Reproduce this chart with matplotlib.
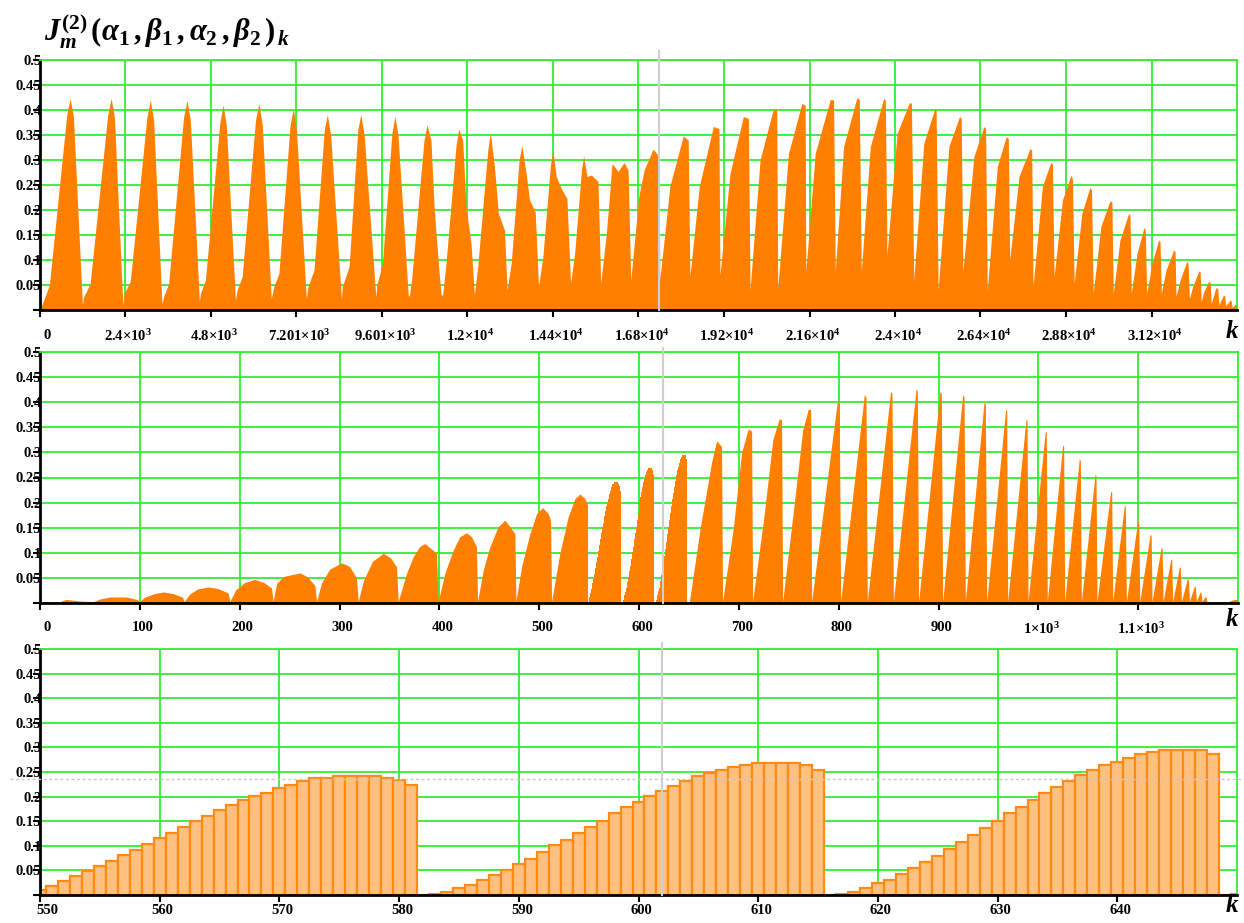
import matplotlib
matplotlib.use("Agg")
import matplotlib.pyplot as plt
import matplotlib.transforms as mtransforms
import numpy as np

plt.rcParams.update({
    "font.family": ["Liberation Serif", "DejaVu Serif"],
    "font.weight": "bold",
    "mathtext.fontset": "custom",
    "mathtext.rm": "Liberation Serif:bold",
    "mathtext.it": "Liberation Serif:italic:bold",
    "mathtext.bf": "Liberation Serif:bold",
})

ORANGE = "#ff8000"
BAR_FACE = "#ffc080"
BAR_EDGE = "#ff8a14"
GRID = "#33ee33"
CURSOR = "#cfcfcf"

# ---------------------------------------------------------------------------
# Panel 1: k = 0 ... 33603, outline of each lobe
# start point, points on the rising side, peak, points on the falling side, end
# ---------------------------------------------------------------------------
top_start_k = [0, 1219, 2364, 3471, 4502, 5534, 6566, 7523, 8489, 9455,
               10365, 11303, 12194, 13113, 13995, 14895, 15740, 16584, 17400, 18244,
               19088, 19933, 20711, 21499, 22325, 23056, 23778, 24529, 25213, 25908,
               26592, 27221, 27877, 28468, 29031, 29566, 30129, 30635, 31067, 31479,
               31892, 32267, 32596, 32877, 33092, 33280, 33467]
top_start_v = [0.0, 0.025, 0.033, 0.027, 0.033, 0.04, 0.047, 0.047, 0.047, 0.05,
               0.027, 0.03, 0.03, 0.04, 0.047, 0.053, 0.053, 0.06, 0.06, 0.067,
               0.07, 0.04, 0.043, 0.077, 0.077, 0.077, 0.11, 0.06, 0.04, 0.077,
               0.04, 0.1, 0.047, 0.067, 0.053, 0.033, 0.033, 0.033, 0.033, 0.033,
               0.027, 0.023, 0.017, 0.013, 0.01, 0.008, 0.005]
top_rise = [
    [(263, 0.05), (750, 0.39)], [(1407, 0.053), (1900, 0.39)],
    [(2533, 0.057), (3000, 0.385)], [(3611, 0.053), (4030, 0.385)],
    [(4643, 0.06), (5050, 0.375)], [(5675, 0.067), (6050, 0.38)],
    [(6707, 0.073), (7020, 0.37)], [(7692, 0.08), (7980, 0.36)],
    [(8677, 0.087), (8920, 0.36)], [(9614, 0.093), (9880, 0.355)],
    [(10431, 0.06), (10780, 0.34)], [(11397, 0.093), (11680, 0.33)],
    [(12288, 0.087), (12570, 0.32)], [(13226, 0.093), (13450, 0.3)],
    [(14117, 0.107), (14330, 0.29)], [(15008, 0.113), (15200, 0.28)],
    [(15899, 0.153), (16059, 0.293), (16228, 0.277)], [(16809, 0.227), (16959, 0.28)],
    [(17681, 0.247)], [(18507, 0.247)], [(19370, 0.273)], [(20214, 0.3)],
    [(21011, 0.313)], [(21762, 0.313)], [(22559, 0.327)], [(23309, 0.327)],
    [(24060, 0.353)], [(24810, 0.333)], [(25514, 0.327)], [(26217, 0.307)],
    [(26874, 0.287)], [(27483, 0.267)], [(28140, 0.247)], [(28703, 0.22)],
    [(29247, 0.193)], [(29781, 0.167)], [(30316, 0.14)], [(30795, 0.113)],
    [(31217, 0.093)], [(31611, 0.08)], [(32005, 0.06)], [(32361, 0.047)],
    [(32671, 0.037)], [], [], [], [],
]
top_peak_k = [844, 1998, 3095, 4127, 5140, 6144, 7110, 8067, 9005, 9962,
              10862, 11753, 12644, 13526, 14398, 15261, 16396, 17212, 18056, 18901,
              19745, 20589, 21386, 22184, 22934, 23684, 24407, 25120, 25814, 26499,
              27127, 27793, 28374, 28937, 29472, 30035, 30560, 30992, 31404, 31827,
              32192, 32530, 32812, 33017, 33224, 33411, 33561]
top_peak_v = [0.423, 0.423, 0.42, 0.419, 0.41, 0.413, 0.403, 0.391, 0.391, 0.387,
              0.37, 0.362, 0.355, 0.329, 0.319, 0.308, 0.295, 0.322, 0.348, 0.367,
              0.387, 0.403, 0.413, 0.421, 0.425, 0.423, 0.415, 0.403, 0.387, 0.367,
              0.347, 0.323, 0.295, 0.269, 0.245, 0.218, 0.193, 0.165, 0.14, 0.12,
              0.097, 0.078, 0.058, 0.045, 0.03, 0.02, 0.012]
top_fall = [
    [(938, 0.387)], [(2090, 0.385)], [(3190, 0.38)], [(4220, 0.38)],
    [(5230, 0.37)], [(6240, 0.37)], [(7200, 0.36)], [(8160, 0.35)],
    [(9100, 0.35)], [(10050, 0.35)],
    [(10975, 0.34), (11068, 0.2), (11162, 0.113)],
    [(11866, 0.34), (11960, 0.207)],
    [(12757, 0.287), (12869, 0.193)],
    [(13648, 0.273), (13742, 0.22)],
    [(14492, 0.267), (14633, 0.243)],
    [(15355, 0.267), (15477, 0.27)],
] + [[] for _ in range(31)]
top_end_k = [1191, 2326, 3424, 4474, 5487, 6491, 7476, 8461, 9427, 10337,
             11256, 12100, 13038, 13901, 14792, 15665, 16509, 17372, 18197, 19060,
             19886, 20683, 21480, 22278, 23000, 23731, 24463, 25157, 25861, 26545,
             27183, 27840, 28421, 28984, 29519, 30091, 30598, 31029, 31442, 31864,
             32230, 32568, 32849, 33064, 33261, 33440, 33603]
top_end_v = [0.01, 0.01, 0.012, 0.017, 0.02, 0.023, 0.023, 0.023, 0.027, 0.03,
             0.03, 0.133, 0.16, 0.197, 0.223, 0.257, 0.28, 0.307, 0.34, 0.363,
             0.383, 0.4, 0.41, 0.42, 0.421, 0.42, 0.413, 0.4, 0.383, 0.363,
             0.343, 0.32, 0.293, 0.263, 0.24, 0.217, 0.19, 0.16, 0.137, 0.117,
             0.093, 0.077, 0.055, 0.043, 0.028, 0.018, 0.01]

top_ticks = [0, 2400.2, 4800.4, 7200.6, 9600.9, 12001, 14401, 16801,
             19202, 21602, 24002, 26402, 28802, 31203]
top_tick_labels = [r"$0$", r"$2.4{\times}10^{3}$", r"$4.8{\times}10^{3}$",
                   r"$7.201{\times}10^{3}$", r"$9.601{\times}10^{3}$",
                   r"$1.2{\times}10^{4}$", r"$1.44{\times}10^{4}$",
                   r"$1.68{\times}10^{4}$", r"$1.92{\times}10^{4}$",
                   r"$2.16{\times}10^{4}$", r"$2.4{\times}10^{4}$",
                   r"$2.64{\times}10^{4}$", r"$2.88{\times}10^{4}$",
                   r"$3.12{\times}10^{4}$"]
top_xmax = 33603

# ---------------------------------------------------------------------------
# Panel 2: k = 0 ... 1200 (the stretch 550...650 comes from the bar values below)
# ---------------------------------------------------------------------------
mid_start_k = [0, 21.4, 52.5, 99.3, 144.4, 190.1, 233.5, 277, 318.7, 358.8,
               398.8, 438.3, 476.7, 512.4,
               650.5, 683.7, 713.8, 743.9, 772.9, 802, 828.7, 854.8, 880.1, 904.2,
               926.9, 948.3, 969.3, 989.7, 1009, 1026.4, 1043.1, 1058.8, 1074.5,
               1088.2, 1101.6, 1113.9, 1125, 1134.6, 1143.3, 1151.4, 1158.4, 1164,
               1169, 1190.7]
mid_start_v = [0.002, 0.004, 0.002, 0.002, 0.003, 0.003, 0.003, 0.003, 0.003, 0.003,
               0.003, 0.003, 0.003, 0.003,
               0.003, 0.003, 0.003, 0.003, 0.003, 0.003, 0.003, 0.003, 0.003, 0.003,
               0.003, 0.003, 0.003, 0.003, 0.003, 0.003, 0.003, 0.003, 0.003,
               0.003, 0.003, 0.003, 0.003, 0.003, 0.003, 0.003, 0.003, 0.003,
               0.002, 0.003]
mid_rise = [
    [], [], [(60, 0.008), (70, 0.012)], [(105, 0.012), (115, 0.019)],
    [(150, 0.018), (158, 0.028)], [(196, 0.026), (205, 0.041)],
    [(237, 0.039), (244, 0.053)], [(282, 0.04), (290, 0.067)],
    [(324, 0.045), (333, 0.083)],
    [(367.1, 0.059), (373.8, 0.092), (380.5, 0.113)],
    [(405.5, 0.059), (413.8, 0.105), (420.5, 0.132)],
    [(443.9, 0.065), (450.6, 0.112), (458.9, 0.152)],
    [(482.3, 0.072), (490.7, 0.138), (497.4, 0.178)],
    [(520.7, 0.099), (529.1, 0.172), (535.8, 0.208)],
    [(661, 0.146), (672.7, 0.28)], [(694.5, 0.15), (702.8, 0.30)],
    [(725, 0.17), (734, 0.325)], [(755, 0.19), (764, 0.345)],
] + [[] for _ in range(26)]
mid_peak_k = [10, 26, 78, 123.4, 168.4, 215.2, 260.3, 302, 343.8, 385.5,
              427.2, 465.6, 503.4, 540.8,
              677.7, 709.4, 740.5, 769.5, 798.6, 825.7, 852, 877.5, 901.5, 924.2,
              945.6, 967.3, 987.7, 1007, 1024.4, 1041, 1056.8, 1072.5, 1086.2,
              1099.6, 1112, 1123, 1132.7, 1141.3, 1149.3, 1156.3, 1162, 1167,
              1180, 1196]
mid_peak_v = [0.002, 0.007, 0.012, 0.022, 0.032, 0.047, 0.06, 0.08, 0.099, 0.1185,
              0.14, 0.165, 0.19, 0.217,
              0.323, 0.347, 0.367, 0.386, 0.401, 0.415, 0.421, 0.426, 0.421, 0.415,
              0.401, 0.386, 0.367, 0.343, 0.315, 0.287, 0.256, 0.223, 0.195,
              0.165, 0.137, 0.111, 0.088, 0.072, 0.049, 0.034, 0.022, 0.013,
              0.002, 0.007]
mid_fall = [
    [], [(31.4, 0.006), (40, 0.004)], [(86, 0.012), (93, 0.009)], [(133, 0.019)],
    [(178, 0.029)], [(224, 0.041)], [(268, 0.052)], [(310, 0.073)], [(351, 0.09)],
    [(395.5, 0.102)], [(432.2, 0.132)], [(472.3, 0.148)], [(509, 0.178)],
    [(545.8, 0.208)],
] + [[] for _ in range(30)]
mid_end_k = [21, 50.5, 98.3, 142.7, 188.4, 231.9, 275.3, 317, 357.2, 397.2,
             437.2, 475.7, 511.4, 548.5,
             682.7, 712.8, 742.8, 771.9, 800.6, 827.4, 853.4, 878.8, 902.8, 925.6,
             946.9, 968.3, 988.7, 1008, 1025.4, 1042.1, 1057.8, 1073.5, 1087.2,
             1100.6, 1113, 1124, 1133.6, 1142.3, 1150.3, 1157.3, 1163, 1168,
             1190, 1200]
mid_end_v = [0.002, 0.003, 0.006, 0.012, 0.02, 0.03, 0.035, 0.05, 0.072, 0.099,
             0.112, 0.138, 0.165, 0.195,
             0.312, 0.342, 0.365, 0.385, 0.398, 0.41, 0.418, 0.423, 0.418, 0.41,
             0.397, 0.383, 0.363, 0.34, 0.312, 0.284, 0.253, 0.22, 0.192,
             0.162, 0.135, 0.108, 0.086, 0.07, 0.047, 0.032, 0.02, 0.012,
             0.002, 0.007]

mid_ticks = [0, 100, 200, 300, 400, 500, 600, 700, 800, 900, 1000, 1100]
mid_tick_labels = ["0", "100", "200", "300", "400", "500", "600", "700", "800",
                   "900", r"$1{\times}10^{3}$", r"$1.1{\times}10^{3}$"]
mid_xmax = 1200

# ---------------------------------------------------------------------------
# Panel 3: individual values for k = 550 ... 650
# ---------------------------------------------------------------------------
bar_k = list(range(550, 651))
bar_v = [0.011, 0.019, 0.028, 0.039, 0.048, 0.058, 0.070, 0.082, 0.092, 0.103,
         0.116, 0.127, 0.139, 0.151, 0.160, 0.173, 0.183, 0.193, 0.202, 0.208,
         0.217, 0.223, 0.231, 0.237, 0.238, 0.241, 0.242, 0.242, 0.242, 0.237,
         0.233, 0.223, 0.0, 0.002, 0.006, 0.015, 0.021, 0.030, 0.041, 0.051,
         0.063, 0.074, 0.087, 0.101, 0.112, 0.127, 0.139, 0.151, 0.166, 0.178,
         0.189, 0.202, 0.212, 0.222, 0.231, 0.241, 0.247, 0.254, 0.260, 0.265,
         0.269, 0.269, 0.269, 0.269, 0.265, 0.255, 0.0, 0.002, 0.006, 0.015,
         0.024, 0.030, 0.043, 0.055, 0.067, 0.079, 0.093, 0.108, 0.122, 0.137,
         0.151, 0.166, 0.179, 0.193, 0.207, 0.219, 0.231, 0.243, 0.255, 0.265,
         0.271, 0.279, 0.286, 0.290, 0.295, 0.295, 0.295, 0.294, 0.286, 0.0,
         0.002]

bot_ticks = [550, 560, 570, 580, 590, 600, 610, 620, 630, 640]
bot_tick_labels = [str(t) for t in bot_ticks]

y_ticks = [0, 0.05, 0.1, 0.15, 0.2, 0.25, 0.3, 0.35, 0.4, 0.45, 0.5]
y_tick_labels = ["", "0.05", "0.1", "0.15", "0.2", "0.25", "0.3", "0.35",
                 "0.4", "0.45", "0.5"]

cursor_k = {"top": 17390, "mid": 624, "bot": 602}
trace_level = 0.236


def outline(start_k, start_v, rise, peak_k, peak_v, fall, end_k, end_v):
    xs, ys = [], []
    for i in range(len(start_k)):
        pts = [(start_k[i], start_v[i])] + list(rise[i]) + [(peak_k[i], peak_v[i])] \
            + list(fall[i]) + [(end_k[i], end_v[i])]
        for x, y in pts:
            xs.append(x)
            ys.append(y)
    return np.array(xs), np.array(ys)


W, H = 1244, 923
fig = plt.figure(figsize=(W / 100, H / 100), dpi=100)
ax1 = fig.add_axes([40 / W, 1 - 310 / H, 1197 / W, 250 / H])
ax2 = fig.add_axes([40 / W, 1 - 603 / H, 1198 / W, 251 / H])
ax3 = fig.add_axes([40 / W, 1 - 895 / H, 1197 / W, 246 / H])


def style(ax, ticks, labels, xmin, xmax, pad):
    ax.set_xlim(xmin, xmax)
    ax.set_ylim(0, 0.5)
    ax.set_axisbelow(True)
    ax.set_yticks(y_ticks)
    ax.set_yticklabels(y_tick_labels)
    ax.set_xticks(ticks)
    ax.set_xticklabels(labels)
    ax.grid(True, color=GRID, lw=1.3)
    for s in ("left", "bottom"):
        ax.spines[s].set_color("black")
        ax.spines[s].set_linewidth(2)
    for s in ("top", "right"):
        ax.spines[s].set_color(GRID)
        ax.spines[s].set_linewidth(1.3)
    ax.tick_params(axis="both", direction="out", length=5, width=1.5,
                   color="black", labelsize=10.5)
    ax.tick_params(axis="y", pad=-6)
    ax.tick_params(axis="x", pad=pad)
    for lab in ax.get_yticklabels() + ax.get_xticklabels():
        lab.set_fontweight("bold")
    # x labels sit a little to the right of their ticks
    for i, lab in enumerate(ax.get_xticklabels()):
        dx = 0.07 if i == 0 else 0.03
        shift = mtransforms.ScaledTranslation(dx, 0, fig.dpi_scale_trans)
        lab.set_transform(lab.get_transform() + shift)


# panel 1
x1, y1 = outline(top_start_k, top_start_v, top_rise, top_peak_k, top_peak_v,
                 top_fall, top_end_k, top_end_v)
ax1.fill_between(x1, y1, 0, color=ORANGE, lw=0, zorder=2)
style(ax1, top_ticks, top_tick_labels, 0, top_xmax, 8)

# panel 2
x2, y2 = outline(mid_start_k, mid_start_v, mid_rise, mid_peak_k, mid_peak_v,
                 mid_fall, mid_end_k, mid_end_v)
ax2.fill_between(x2[x2 < 549], y2[x2 < 549], 0, color=ORANGE, lw=0, zorder=2)
ax2.fill_between(x2[x2 > 649], y2[x2 > 649], 0, color=ORANGE, lw=0, zorder=2)
ax2.bar(bar_k, bar_v, width=1.0, color=ORANGE, lw=0, zorder=2)
style(ax2, mid_ticks, mid_tick_labels, 0, mid_xmax, 8)

# panel 3
ax3.bar(bar_k, bar_v, width=1.0, color=BAR_FACE, edgecolor=BAR_EDGE,
        linewidth=1.6, zorder=2)
style(ax3, bot_ticks, bot_tick_labels, 550, 650, 1.5)
ax3.axhline(trace_level, xmin=-0.025, xmax=1.006, color="#c8c8c8", lw=1,
            ls=(0, (2, 2)), clip_on=False, zorder=4)

# cursor lines
ax1.axvline(cursor_k["top"], ymin=0, ymax=1.036, color=CURSOR, lw=1.5,
            clip_on=False, zorder=5)
ax2.axvline(cursor_k["mid"], ymin=0, ymax=1.016, color=CURSOR, lw=1.5,
            clip_on=False, zorder=5)
ax3.axvline(cursor_k["bot"], ymin=0, ymax=1.024, color=CURSOR, lw=1.5,
            clip_on=False, zorder=5)

# axis variable labels
for ypix in (331, 619, 905):
    fig.text(1232 / W, 1 - ypix / H, "k", ha="center", va="center",
             fontsize=18, style="italic", weight="bold")

fig.text(44 / W, 1 - 31 / H,
         r"$J_{m}^{(2)}\,(\alpha_{1}\,,\beta_{1}\,,\alpha_{2}\,,\beta_{2}\,)_{\,k}$",
         ha="left", va="center", fontsize=22)

fig.savefig("out.png", dpi=100)
